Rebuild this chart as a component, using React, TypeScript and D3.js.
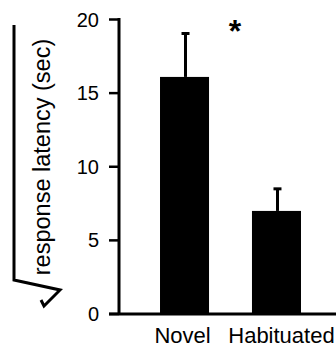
import { useEffect, useRef } from 'react';
import * as d3 from 'd3';

const categories = ['Novel', 'Habituated'];
const means = [16.1, 7.0];
const errors = [2.95, 1.5];
const yTicks = [0, 5, 10, 15, 20];
const yLabel = 'response latency (sec)';
const sigMark = '*';

const FONT = '"Liberation Sans", Arial, Helvetica, sans-serif';

export default function App() {
  const svgRef = useRef<SVGSVGElement>(null);

  useEffect(() => {
    if (!svgRef.current) return;
    const width = 336;
    const height = 348;
    const axisX = 119;

    const svg = d3.select(svgRef.current);
    svg.selectAll('*').remove();
    svg.attr('width', width).attr('height', height);

    const y = d3.scaleLinear().domain([0, 20]).range([314, 19.5]);
    const x = d3
      .scaleBand()
      .domain(categories)
      .range([axisX, 342])
      .paddingInner(0.467)
      .paddingOuter(0.446);

    // bars
    svg
      .selectAll('.bar')
      .data(categories)
      .enter()
      .append('rect')
      .attr('x', (d) => x(d) || 0)
      .attr('y', (_, i) => y(means[i]))
      .attr('width', x.bandwidth())
      .attr('height', (_, i) => y(0) - y(means[i]))
      .attr('fill', '#000');

    // error bars (upper only)
    categories.forEach((c, i) => {
      const cx = (x(c) || 0) + x.bandwidth() / 2 + 1;
      const top = y(means[i] + errors[i]);
      svg
        .append('line')
        .attr('x1', cx)
        .attr('x2', cx)
        .attr('y1', y(means[i]))
        .attr('y2', top)
        .attr('stroke', '#000')
        .attr('stroke-width', 3);
      svg
        .append('line')
        .attr('x1', cx - 4)
        .attr('x2', cx + 4)
        .attr('y1', top)
        .attr('y2', top)
        .attr('stroke', '#000')
        .attr('stroke-width', 3);
    });

    // y axis
    svg
      .append('line')
      .attr('x1', axisX)
      .attr('x2', axisX)
      .attr('y1', y(20) - 1.5)
      .attr('y2', y(0))
      .attr('stroke', '#000')
      .attr('stroke-width', 3);

    svg
      .selectAll('.tick')
      .data(yTicks)
      .enter()
      .append('line')
      .attr('x1', axisX - 10)
      .attr('x2', axisX)
      .attr('y1', (d) => y(d))
      .attr('y2', (d) => y(d))
      .attr('stroke', '#000')
      .attr('stroke-width', 2.5);

    svg
      .selectAll('.tick-label')
      .data(yTicks)
      .enter()
      .append('text')
      .attr('x', 99)
      .attr('y', (d) => y(d))
      .attr('dy', '0.35em')
      .attr('text-anchor', 'end')
      .style('font-family', FONT)
      .style('font-size', '20px')
      .text((d) => d);

    // baseline
    svg
      .append('line')
      .attr('x1', 109)
      .attr('x2', width)
      .attr('y1', y(0))
      .attr('y2', y(0))
      .attr('stroke', '#000')
      .attr('stroke-width', 3);

    // category labels
    svg
      .selectAll('.cat-label')
      .data(categories)
      .enter()
      .append('text')
      .attr('x', (d, i) => (x(d) || 0) + x.bandwidth() / 2 + (i === 0 ? -2 : 5))
      .attr('y', 343)
      .attr('text-anchor', 'middle')
      .style('font-family', FONT)
      .style('font-size', '22px')
      .text((d) => d);

    // significance star
    svg
      .append('text')
      .attr('x', 235)
      .attr('y', 42)
      .attr('text-anchor', 'middle')
      .style('font-family', FONT)
      .style('font-size', '32px')
      .style('font-weight', 'bold')
      .text(sigMark);

    // y label with square-root sign
    svg
      .append('text')
      .attr('transform', 'translate(50,157) rotate(-90)')
      .attr('text-anchor', 'middle')
      .style('font-family', FONT)
      .style('font-size', '23.5px')
      .text(yLabel);

    svg
      .append('path')
      .attr('d', 'M14,25 V280 L60,290 L44,306 L41,300')
      .attr('fill', 'none')
      .attr('stroke', '#000')
      .attr('stroke-width', 3)
      .attr('stroke-linejoin', 'miter');
  }, []);

  return (
    <div style={{ position: 'absolute', left: 0, top: 0 }}>
      <svg ref={svgRef} style={{ display: 'block' }} />
    </div>
  );
}
